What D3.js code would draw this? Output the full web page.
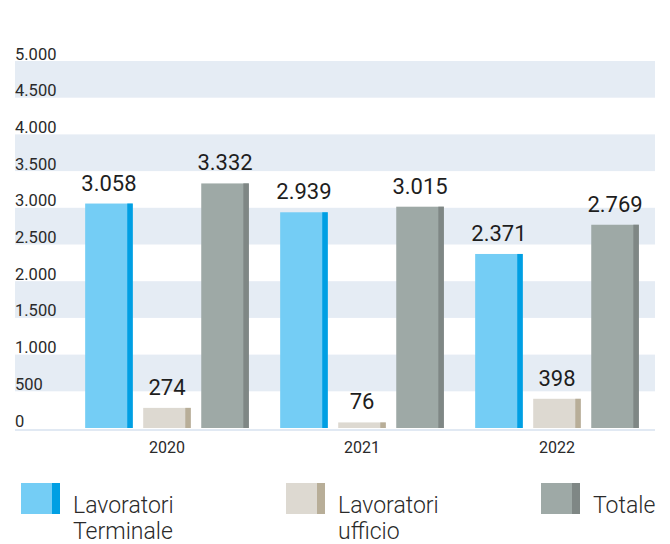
<!DOCTYPE html>
<html>
<head>
<meta charset="utf-8">
<script src="https://cdn.jsdelivr.net/npm/d3@7"></script>
<style>
  html, body { margin: 0; padding: 0; background: #fff; }
  svg { display: block; font-family: Roboto, "Noto Sans", sans-serif; }
</style>
</head>
<body>
<svg id="chart" width="670" height="544"></svg>
<script>
// Workforce by year (headcount)
const years = ["2020", "2021", "2022"];
const seriesKeys = ["terminale", "ufficio", "totale"];
const seriesNames = [["Lavoratori", "Terminale"], ["Lavoratori", "ufficio"], ["Totale"]];
const terminale = [3058, 2939, 2371];
const ufficio = [274, 76, 398];
const totale = [3332, 3015, 2769];
const yTicks = [0, 500, 1000, 1500, 2000, 2500, 3000, 3500, 4000, 4500, 5000];

const fills = { terminale: "#74cdf5", ufficio: "#ddd9d1", totale: "#9ea9a6" };
const edges = { terminale: "#009fe3", ufficio: "#b8ae98", totale: "#7f8785" };

const values = { terminale, ufficio, totale };
const fmt = d3.formatLocale({ decimal: ",", thousands: ".", grouping: [3], currency: ["", "€"] }).format(",d");

const svg = d3.select("#chart");
const left = 15, right = 655;

const y = d3.scaleLinear().domain([0, 5000]).range([428, 61]);
const x = d3.scaleBand().domain(years).range([69.5, 654.5]);
const xs = d3.scaleBand().domain(seriesKeys).range([0, x.bandwidth()])
  .paddingInner(0.18).paddingOuter(0.27);

// alternating horizontal bands
const bandTicks = yTicks.filter((d, i) => i % 2 === 1);
svg.append("g").selectAll("rect").data(bandTicks).join("rect")
  .attr("x", left).attr("width", right - left)
  .attr("y", d => y(d + 500)).attr("height", d => y(d) - y(d + 500))
  .attr("fill", "#e5ecf4");

// y tick labels
svg.append("g").selectAll("text").data(yTicks).join("text")
  .attr("x", left).attr("y", d => y(d) - 1.5)
  .attr("font-size", 16.5).attr("fill", "#2a2a2a")
  .text(d => fmt(d));

// bars
const stripe = 5.5;
const groups = svg.append("g").selectAll("g").data(years).join("g")
  .attr("transform", d => `translate(${x(d)},0)`);

seriesKeys.forEach(k => {
  groups.append("rect")
    .attr("x", xs(k)).attr("width", xs.bandwidth())
    .attr("y", (d, i) => y(values[k][i]))
    .attr("height", (d, i) => y(0) - y(values[k][i]))
    .attr("fill", fills[k]);
  groups.append("rect")
    .attr("x", xs(k) + xs.bandwidth() - stripe).attr("width", stripe)
    .attr("y", (d, i) => y(values[k][i]))
    .attr("height", (d, i) => y(0) - y(values[k][i]))
    .attr("fill", edges[k]);
  groups.append("text")
    .attr("x", xs(k) + xs.bandwidth() / 2)
    .attr("y", (d, i) => y(values[k][i]) - 13)
    .attr("text-anchor", "middle")
    .attr("font-size", 22).attr("fill", "#1e1e1e")
    .text((d, i) => fmt(values[k][i]));
});

// baseline
svg.append("rect").attr("x", left).attr("width", right - left)
  .attr("y", y(0) + 1).attr("height", 2).attr("fill", "#e1e9f3");

// year labels
svg.append("g").selectAll("text").data(years).join("text")
  .attr("x", d => x(d) + x.bandwidth() / 2).attr("y", 453)
  .attr("text-anchor", "middle").attr("font-size", 16).attr("fill", "#2a2a2a")
  .text(d => d);

// legend
const legendX = [21, 286, 541];
const legend = svg.append("g").selectAll("g").data(seriesKeys).join("g")
  .attr("transform", (d, i) => `translate(${legendX[i]},483)`);
legend.append("rect").attr("width", 39).attr("height", 31).attr("fill", d => fills[d]);
legend.append("rect").attr("x", 31).attr("width", 8).attr("height", 31).attr("fill", d => edges[d]);
legend.append("text")
  .attr("font-size", 23).attr("font-weight", 300).attr("fill", "#2a2a2a")
  .selectAll("tspan").data((d, i) => seriesNames[i]).join("tspan")
  .attr("x", 52).attr("y", (d, j) => 30 + j * 25.5)
  .text(d => d);
</script>
</body>
</html>
